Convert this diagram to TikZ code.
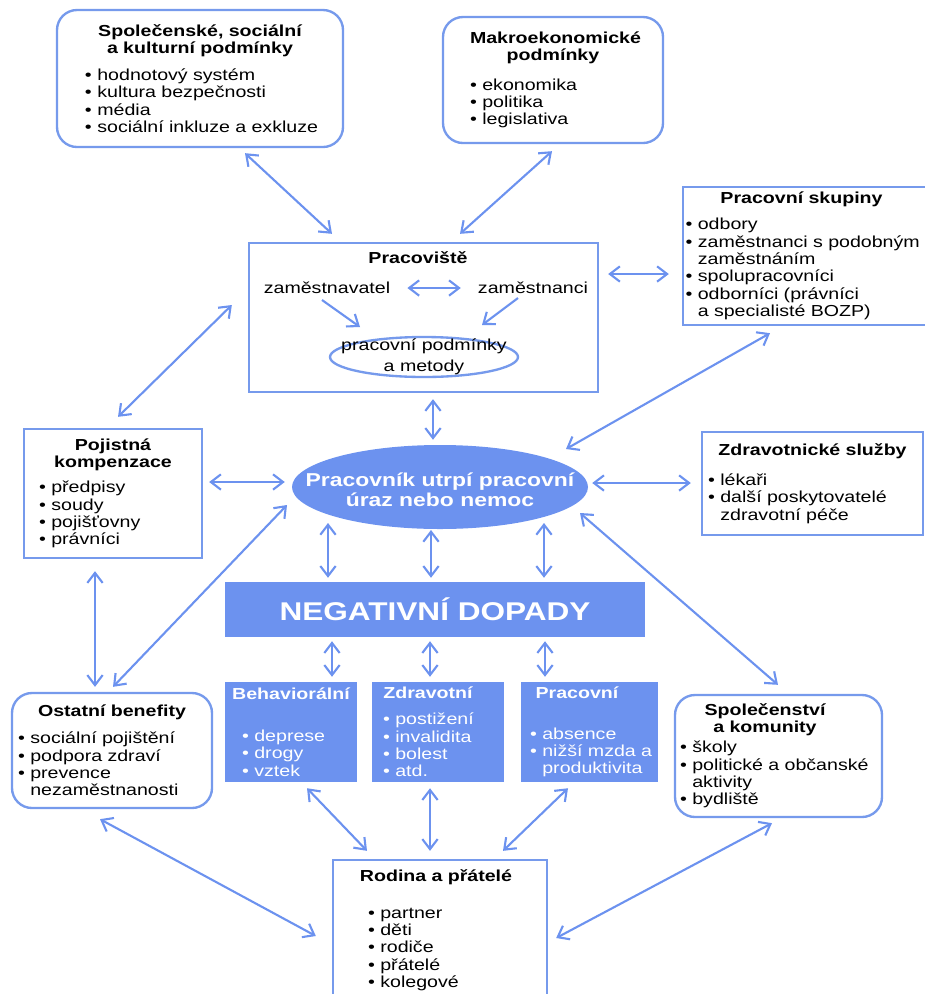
\documentclass[tikz,border=0pt]{standalone}
\usepackage{fontspec}
\setmainfont{Liberation Sans}[FakeStretch=1.23]
\usetikzlibrary{arrows.meta,shapes.geometric}
\definecolor{mblue}{RGB}{108,146,239}
\definecolor{mline}{RGB}{118,154,236}
\lineskiplimit=-\maxdimen
\normallineskiplimit=-\maxdimen
\hfuzz=200pt
\newcommand{\tightlines}{\lineskiplimit=-\maxdimen\lineskip=0pt\relax}
\newcommand{\bodyfont}{\fontsize{13.6}{14.8}\selectfont\tightlines}
\newcommand{\ttl}[2][0pt]{{\tightlines\centering\bfseries\rightskip=#1 plus 1fil\relax #2\par}}
\newcommand{\itm}[2][0pt]{\par\tightlines\noindent\hspace*{#1}\makebox[3.7mm][l]{\textbullet}\mbox{#2}\par}
\newcommand{\itc}[2][0pt]{\par\tightlines\noindent\hspace*{\dimexpr#1+3.7mm\relax}\mbox{#2}\par}
\begin{document}
\begin{tikzpicture}[x=0.3mm,y=-0.3mm,font=\bodyfont,
  wbox/.style={draw=mline,line width=2pt,fill=white,align=left,inner ysep=0pt},
  rbox/.style={wbox,rounded corners=6mm},
  bbox/.style={fill=mblue,text=white,align=left,inner ysep=0pt},
  arr/.style={draw=mblue,line width=1.8pt,{Straight Barb[length=3mm,width=4.6mm]}-{Straight Barb[length=3mm,width=4.6mm]}},
  arrto/.style={draw=mblue,line width=1.8pt,-{Straight Barb[length=3mm,width=4.6mm]}}]
\useasboundingbox (0,0) rectangle (925,994);
%\draw[step=50,gray,very thin] (0,0) grid (925,994);

% upper boxes
\node[rbox,minimum width=85.8mm,minimum height=41.1mm,inner xsep=8.4mm,text width=69mm] (soc) at (200,78.5)
  {\ttl{Společenské, sociální\\ a kulturní podmínky}\vspace{8.3pt}\itm{hodnotový systém}\itm{kultura bezpečnosti}\itm{média}\itm{sociální inkluze a exkluze}\vspace{-6.8pt}};
\node[rbox,minimum width=66mm,minimum height=37.8mm,inner xsep=8.1mm,text width=49.8mm] (makro) at (553,80)
  {\ttl{Makroekonomické\\ podmínky}\vspace{10pt}\itm{ekonomika}\itm{politika}\itm{legislativa}};

% pracoviste
\node[wbox,minimum width=104.7mm,minimum height=44.7mm] (pracoviste) at (423.5,317.5) {};
\node[inner sep=0pt] (pracovistenazev) at (418,258) {\bfseries Pracoviště};
\node[inner sep=0pt] (zamestnavatel) at (327,288) {zaměstnavatel};
\node[inner sep=0pt] (zamestnanci) at (533,288) {zaměstnanci};
\node[draw=mline,line width=2pt,ellipse,minimum width=56.4mm,minimum height=12mm,inner sep=0pt] (metody) at (424,357) {};
\node[align=center,inner sep=0pt,font=\fontsize{13.6}{18}\selectfont\tightlines] (metodytext) at (metody.center) {pracovní podmínky\\a metody};

\node[wbox,minimum width=73.5mm,minimum height=41.4mm,inner xsep=0.75mm,text width=72mm] (skupiny) at (805.5,256)
  {\ttl[2.4mm]{Pracovní skupiny}\vspace{7.4pt}\itm{odbory}\itm{zaměstnanci s podobným}\itc{zaměstnáním}\itm{spolupracovníci}\itm{odborníci (právníci}\itc{a specialisté BOZP)}\vspace{-6.8pt}};

% middle
\node[wbox,minimum width=53.4mm,minimum height=38.7mm,inner xsep=4.5mm,text width=44.4mm] (pojistna) at (113,493.5)
  {\ttl{Pojistná\\ kompenzace}\vspace{6.6pt}\itm{předpisy}\itm{soudy}\itm{pojišťovny}\itm{právníci}};
\node[fill=mblue,ellipse,minimum width=88.8mm,minimum height=25.2mm,inner sep=0pt] (uraz) at (440,487) {};
\node[align=center,inner sep=0pt,text=white,font=\fontsize{15.9}{17.1}\selectfont\bfseries\tightlines] (uraztext) at (440,490) {Pracovník utrpí pracovní\\úraz nebo nemoc};
\node[wbox,minimum width=66.3mm,minimum height=30.9mm,inner xsep=1.8mm,text width=62.7mm] (zdrav) at (812.5,483.5)
  {\ttl{Zdravotnické služby}\vspace{10.8pt}\itm{lékaři}\itm{další poskytovatelé}\itc{zdravotní péče}};

% negativni dopady
\node[bbox,align=center,minimum width=126mm,minimum height=16.5mm,font=\fontsize{21.9}{26}\selectfont\bfseries] (negativni) at (435,609.5) {NEGATIVNÍ DOPADY};
\node[bbox,minimum width=39.6mm,minimum height=30mm,inner xsep=1.8mm,text width=36mm] (behav) at (291,732)
  {\ttl{Behaviorální}\vspace{21pt}\itm[3.3mm]{deprese}\itm[3.3mm]{drogy}\itm[3.3mm]{vztek}};
\node[bbox,minimum width=39.6mm,minimum height=30mm,inner xsep=1.8mm,text width=36mm] (zdravotni) at (438,732)
  {\ttl[6mm]{Zdravotní}\vspace{7.4pt}\itm[1.5mm]{postižení}\itm[1.5mm]{invalidita}\itm[1.5mm]{bolest}\itm[1.5mm]{atd.}};
\node[bbox,minimum width=41.1mm,minimum height=30mm,inner xsep=1.8mm,text width=37.5mm] (pracovni) at (589.5,732)
  {\ttl[7.5mm]{Pracovní}\vspace{20pt}\itm[0.9mm]{absence}\itm[0.9mm]{nižší mzda a}\itc[0.9mm]{produktivita}};

% lower boxes
\node[rbox,minimum width=60mm,minimum height=34.5mm,inner xsep=1.8mm,text width=56.4mm] (ostatni) at (112,750.5)
  {\ttl{Ostatní benefity}\vspace{8.3pt}\itm{sociální pojištění}\itm{podpora zdraví}\itm{prevence}\itc{nezaměstnanosti}\vspace{-5pt}};
\node[rbox,minimum width=62.1mm,minimum height=36.6mm,inner xsep=1.5mm,text width=59.1mm] (spolecenstvi) at (778.5,756)
  {\ttl[8.1mm]{Společenství\\ a komunity}\vspace{2.3pt}\itm{školy}\itm{politické a občanské}\itc{aktivity}\itm{bydliště}};
\node[wbox,minimum width=64.2mm,minimum height=42mm,inner xsep=1.8mm,text width=60.6mm] (rodina) at (440,930)
  {\ttl[2.4mm]{Rodina a přátelé}\vspace{16.8pt}\itm[8.7mm]{partner}\itm[8.7mm]{děti}\itm[8.7mm]{rodiče}\itm[8.7mm]{přátelé}\itm[8.7mm]{kolegové}\vspace{6pt}};

% arrows
\draw[arr] ([shift={(17,0)}]zamestnavatel.east) -- ([shift={(-17,0)}]zamestnanci.west);
\draw[arrto] ([shift={(-5,12)}]zamestnavatel.center) -- ([shift={(-64,-30)}]metody.center);
\draw[arrto] ([shift={(-15,10)}]zamestnanci.center) -- ([shift={(58,-32)}]metody.center);

\draw[arr] ([shift={(45,5)}]soc.south) -- ([shift={(-91.5,-8)}]pracoviste.north);
\draw[arr] ([shift={(-1,7)}]makro.south) -- ([shift={(36.5,-8)}]pracoviste.north);
\draw[arr] ([shift={(9,-43.5)}]pracoviste.east) -- ([shift={(-13,18)}]skupiny.west);
\draw[arr] ([shift={(-16,-12.5)}]pracoviste.west) -- ([shift={(5,-11)}]pojistna.north);
\draw[arr] ([shift={(9.5,6)}]pracoviste.south) -- ([shift={(-7,-5)}]uraz.north);
\draw[arr] ([shift={(-35.5,7)}]skupiny.south) -- ([shift={(126,-38)}]uraz.center);
\draw[arr] ([shift={(6,-11.5)}]pojistna.east) -- ([shift={(-7,-5)}]uraz.west);
\draw[arr] ([shift={(4,-4)}]uraz.east) -- ([shift={(-10,-0.5)}]zdrav.west);
\draw[arr] ([shift={(-18,12)}]pojistna.south) -- ([shift={(-17,-5)}]ostatni.north);
\draw[arr] ([shift={(-153,18)}]uraz.center) -- ([shift={(1,-5)}]ostatni.north);
\draw[arr] ([shift={(140,26)}]uraz.center) -- ([shift={(-0.5,-9)}]spolecenstvi.north);

\draw[arr] ([shift={(-112,36)}]uraz.center) -- ([shift={(-107,-4)}]negativni.north);
\draw[arr] ([shift={(-9,43)}]uraz.center) -- ([shift={(-4,-4)}]negativni.north);
\draw[arr] ([shift={(104,36)}]uraz.center) -- ([shift={(109,-4)}]negativni.north);
\draw[arr] ([shift={(-103,4)}]negativni.south) -- ([shift={(41,-5)}]behav.north);
\draw[arr] ([shift={(-5,4)}]negativni.south) -- ([shift={(-8,-5)}]zdravotni.north);
\draw[arr] ([shift={(110,4)}]negativni.south) -- ([shift={(-44.5,-5)}]pracovni.north);

\draw[arr] ([shift={(16,6)}]behav.south) -- ([shift={(-73,-8)}]rodina.north);
\draw[arr] ([shift={(-8,6)}]zdravotni.south) -- ([shift={(-10,-8)}]rodina.north);
\draw[arr] ([shift={(-21.5,6)}]pracovni.south) -- ([shift={(63,-8)}]rodina.north);
\draw[arr] ([shift={(-12,10)}]ostatni.south) -- ([shift={(-16,6)}]rodina.west);
\draw[arr] ([shift={(-6.5,5)}]spolecenstvi.south) -- ([shift={(8,8)}]rodina.east);
\end{tikzpicture}
\end{document}
